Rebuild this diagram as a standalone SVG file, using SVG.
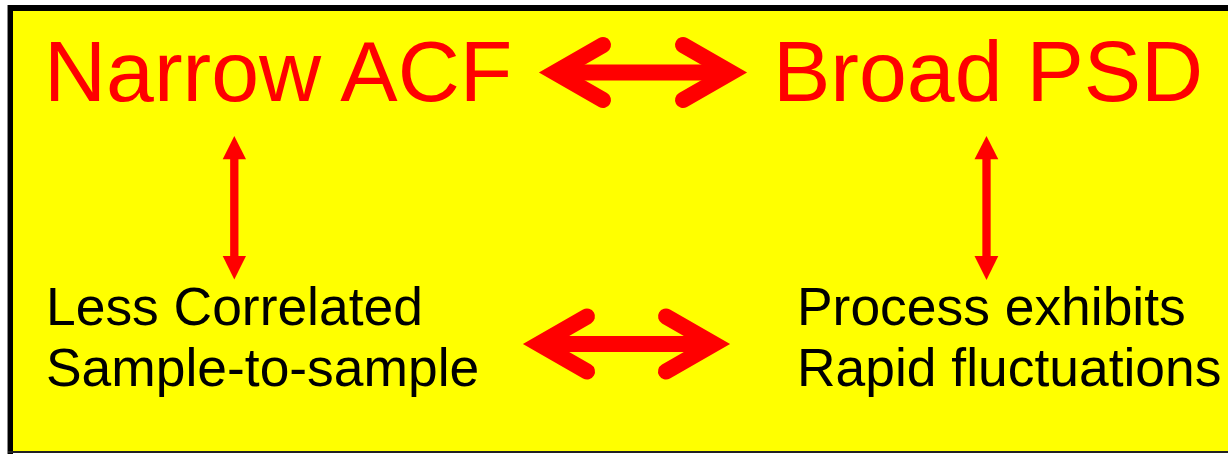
<svg xmlns="http://www.w3.org/2000/svg" width="1228" height="454" viewBox="0 0 1228 454">
  <style>
    .big { font-family: "Liberation Sans", Arial, sans-serif; font-size: 86px; fill: #FF0000; }
    .small { font-family: "Liberation Sans", Arial, sans-serif; font-size: 53.4px; fill: #000000; }
    .shaft { stroke: #FF0000; fill: none; }
    .head { stroke: #FF0000; stroke-width: 16; fill: none; stroke-linecap: round; stroke-linejoin: miter; stroke-miterlimit: 10; }
    .vhead { fill: #FF0000; }
  </style>
  <g id="frame">
    <rect x="0" y="0" width="1228" height="454" fill="#FFFFFF"/>
    <rect x="13" y="11" width="1215" height="441" fill="#FFFF00"/>
    <rect x="7" y="5" width="1" height="449" fill="#888888"/>
    <rect x="8" y="5" width="5" height="449" fill="#000000"/>
    <rect x="8" y="5" width="1220" height="6" fill="#000000"/>
    <rect x="8" y="451" width="1220" height="2" fill="#222222"/>
  </g>
  <g id="node-narrow-acf">
    <text class="big" x="44" y="101">Narrow ACF</text>
  </g>
  <g id="node-broad-psd">
    <text class="big" x="773" y="101">Broad PSD</text>
  </g>
  <g id="node-less-correlated">
    <text class="small" x="46" y="325">Less Correlated</text>
    <text class="small" x="46" y="386">Sample-to-sample</text>
  </g>
  <g id="node-process-exhibits">
    <text class="small" x="797" y="325">Process exhibits</text>
    <text class="small" x="797" y="386">Rapid fluctuations</text>
  </g>
  <g id="connectors">
    <!-- top horizontal double arrow -->
    <line class="shaft" x1="555" y1="72.5" x2="731" y2="72.5" stroke-width="16"/>
    <polyline class="head" points="603,45 555,72.5 603,100"/>
    <polyline class="head" points="683,45 731,72.5 683,100"/>
    <!-- bottom horizontal double arrow -->
    <line class="shaft" x1="539" y1="344" x2="714" y2="344" stroke-width="16"/>
    <polyline class="head" points="587,316.5 539,344 587,371.5"/>
    <polyline class="head" points="666,316.5 714,344 666,371.5"/>
    <!-- left vertical double arrow -->
    <line class="shaft" x1="234.3" y1="158" x2="234.3" y2="257" stroke-width="8.3"/>
    <polygon class="vhead" points="234.3,136 246,159.3 222.7,159.3"/>
    <polygon class="vhead" points="234.3,279.5 246,256 222.7,256"/>
    <!-- right vertical double arrow -->
    <line class="shaft" x1="986.5" y1="158" x2="986.5" y2="257" stroke-width="8.3"/>
    <polygon class="vhead" points="986.5,136 998.3,159.3 974.5,159.3"/>
    <polygon class="vhead" points="986.5,280 998.3,256 974.5,256"/>
  </g>
</svg>
